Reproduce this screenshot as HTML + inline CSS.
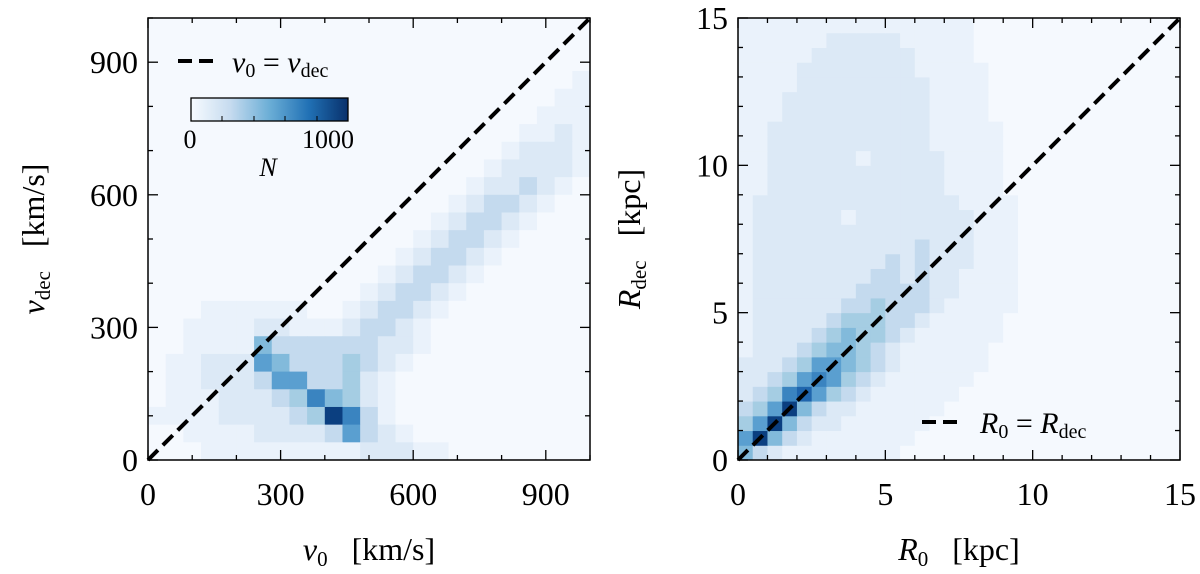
<!DOCTYPE html>
<html><head><meta charset="utf-8"><style>
body{margin:0;background:#fff;}
svg{display:block;font-family:"Liberation Serif",serif;}
</style></head><body>
<svg id="fig" width="1200" height="574" viewBox="0 0 1200 574" xmlns="http://www.w3.org/2000/svg"></svg>
<script>
// ---- Left panel data: 25x25 bins of 40 km/s, rows listed from top (v_dec high) to bottom ----
const leftXTicks = [0, 300, 600, 900];
const leftYTicks = [0, 300, 600, 900];
const leftGrid = [
"0000000000000000000000000",
"0000000000000000000000000",
"0000000000000000000000000",
"0000000000000000000000001",
"0000000000000000000000011",
"0000000000000000000000111",
"0000000000000000000001121",
"0000000000000000000012221",
"0000000000000000000122221",
"0000000000000000001223210",
"0000000000000000012332100",
"0000000000000000123321000",
"0000000000000001233210000",
"0000000000000012332100000",
"0000000000000123321000000",
"0000000000001233210000000",
"0001111110012332100000000",
"0011112211123321000000000",
"0011115333333221000000000",
"0112226533343210000000000",
"0112223663342100000000000",
"0111222347542100000000000",
"1111222234973100000000000",
"0011112222363210000000000",
"0001111111112221100000000"
];
// ---- Right panel data: 30x30 bins of 0.5 kpc, rows listed from bottom (R_dec=0) upward ----
const rightXTicks = [0, 5, 10, 15];
const rightYTicks = [0, 5, 10, 15];
const rightGrid = [
"532111111110000000000000000000",
"695321111111000000000000000000",
"469532211111100000000000000000",
"346953221111110000000000000000",
"234786432111111000000000000000",
"223467643211111100000000000000",
"222346654321111110000000000000",
"122234554321111110000000000000",
"122223454432111111000000000000",
"122222344433211111000000000000",
"122222233433321111100000000000",
"122222223333322111100000000000",
"122222222332322111100000000000",
"122222222232322211100000000000",
"122222222222322211100000000000",
"122222222222222211100000000000",
"122222212222222211100000000000",
"122222222222222111100000000000",
"112222222222221111000000000000",
"112222222222221111000000000000",
"112222221222221111000000000000",
"112222222222211111000000000000",
"112222222222211111000000000000",
"111222222222211110000000000000",
"111222222222211110000000000000",
"111122222222211110000000000000",
"111122222222111110000000000000",
"111112222222111100000000000000",
"111111222221111100000000000000",
"111111111111111100000000000000"
];
const palette = ["#f5f9fe","#eaf2fb","#dce9f6","#c4daee","#a5cde3","#82badb","#5a9fd0","#3a84c0","#1f65ad","#0b3f80"];

const NS="http://www.w3.org/2000/svg";
const svg=document.getElementById('fig');
function mk(tag,attrs,parent){const e=document.createElementNS(NS,tag);for(const k in attrs)e.setAttribute(k,attrs[k]);(parent||svg).appendChild(e);return e;}

function panel(name,x0,y0,size,max,grid,topFirst,xt,yt,minorStep){
  const g=mk('g',{});
  
  
  const sx=v=>x0+v/max*size, sy=v=>y0+size-v/max*size;
  const n=grid.length;
  const bw=max/grid[0].length;
  const bh=max/n;
  grid.forEach((row,ri)=>{
    const j=topFirst?(n-1-ri):ri;
    for(let i=0;i<row.length;i++){
      const v=+row[i];
      const r=mk('rect',{x:sx(i*bw),y:sy((j+1)*bh),width:sx((i+1)*bw)-sx(i*bw)+0.5,height:sy(j*bh)-sy((j+1)*bh)+0.5,fill:palette[v]},g);
      
      
    }
  });
  const d=mk('line',{x1:sx(0),y1:sy(0),x2:sx(max),y2:sy(max),stroke:'#000','stroke-width':4,'stroke-dasharray':'14 7'},g);
  
  
  for(let v=0;v<=max+1e-9;v+=minorStep){
    const major=xt.some(t=>Math.abs(t-v)<1e-9);
    const L=major?10:5;
    mk('line',{x1:sx(v),y1:y0+size,x2:sx(v),y2:y0+size-L,stroke:'#000','stroke-width':1.3},g);
    mk('line',{x1:sx(v),y1:y0,x2:sx(v),y2:y0+L,stroke:'#000','stroke-width':1.3},g);
    mk('line',{x1:x0,y1:sy(v),x2:x0+L,y2:sy(v),stroke:'#000','stroke-width':1.3},g);
    mk('line',{x1:x0+size,y1:sy(v),x2:x0+size-L,y2:sy(v),stroke:'#000','stroke-width':1.3},g);
  }
  xt.forEach(t=>{const e=mk('text',{x:sx(t),y:505,'font-size':32,'text-anchor':'middle'},g);e.textContent=t;
    
    });
  yt.forEach(t=>{const e=mk('text',{x:x0-10,y:sy(t)+11,'font-size':32,'text-anchor':'end'},g);e.textContent=t;
    
    });
  const fr=mk('rect',{x:x0,y:y0,width:size,height:size,fill:'none',stroke:'#000','stroke-width':1.5},g);
  
  
  return g;
}
panel('left-panel',148,18,442,1000,leftGrid,true,leftXTicks,leftYTicks,100);
panel('right-panel',738,18,442,15,rightGrid,false,rightXTicks,rightYTicks,1);
</script>
<svg width="1200" height="574" style="position:absolute;left:0;top:0;font-family:'Liberation Serif',serif">
  <defs><linearGradient id="blues" x1="0" x2="1" y1="0" y2="0">
    <stop offset="0" stop-color="#f7fbff"/><stop offset="0.25" stop-color="#c6dbef"/><stop offset="0.5" stop-color="#6baed6"/><stop offset="0.75" stop-color="#2171b5"/><stop offset="1" stop-color="#08306b"/></linearGradient></defs>
  <g>
    <line x1="178" y1="61" x2="218" y2="61" stroke="#000" stroke-width="4" stroke-dasharray="14 7"/>
    <text x="232" y="72" font-size="30" font-style="italic">v<tspan font-size="20" font-style="normal" dy="5">0</tspan><tspan dy="-5" font-style="normal"> = </tspan>v<tspan font-size="20" font-style="normal" dy="5">dec</tspan></text>
  </g>
  <g>
    <rect x="191" y="98" width="157" height="23" fill="url(#blues)" stroke="#000" stroke-width="1.3"/>
    <line x1="222" y1="121" x2="222" y2="116" stroke="#000"/><line x1="254" y1="121" x2="254" y2="116" stroke="#000"/><line x1="285" y1="121" x2="285" y2="116" stroke="#000"/><line x1="317" y1="121" x2="317" y2="116" stroke="#000"/>
    <text x="190" y="148" font-size="26" text-anchor="middle">0</text>
    <text x="328" y="148" font-size="26" text-anchor="middle">1000</text>
    <text x="268" y="176" font-size="26" font-style="italic" text-anchor="middle">N</text>
  </g>
  <g>
    <line x1="922" y1="422" x2="962" y2="422" stroke="#000" stroke-width="4" stroke-dasharray="14 7"/>
    <text x="980" y="433" font-size="30" font-style="italic">R<tspan font-size="20" font-style="normal" dy="5">0</tspan><tspan dy="-5" font-style="normal"> = </tspan>R<tspan font-size="20" font-style="normal" dy="5">dec</tspan></text>
  </g>
  <text x="369" y="560" font-size="32" text-anchor="middle" xml:space="preserve"><tspan font-style="italic">v</tspan><tspan font-size="21" dy="6">0</tspan><tspan dy="-6">   [km/s]</tspan></text>
  <text x="959" y="560" font-size="32" text-anchor="middle" xml:space="preserve"><tspan font-style="italic">R</tspan><tspan font-size="21" dy="6">0</tspan><tspan dy="-6">   [kpc]</tspan></text>
  <text transform="translate(44,239) rotate(-90)" font-size="32" text-anchor="middle" xml:space="preserve"><tspan font-style="italic">v</tspan><tspan font-size="21" dy="6">dec</tspan><tspan dy="-6">   [km/s]</tspan></text>
  <text transform="translate(640,239) rotate(-90)" font-size="32" text-anchor="middle" xml:space="preserve"><tspan font-style="italic">R</tspan><tspan font-size="21" dy="6">dec</tspan><tspan dy="-6">   [kpc]</tspan></text>
</svg>
</body></html>
